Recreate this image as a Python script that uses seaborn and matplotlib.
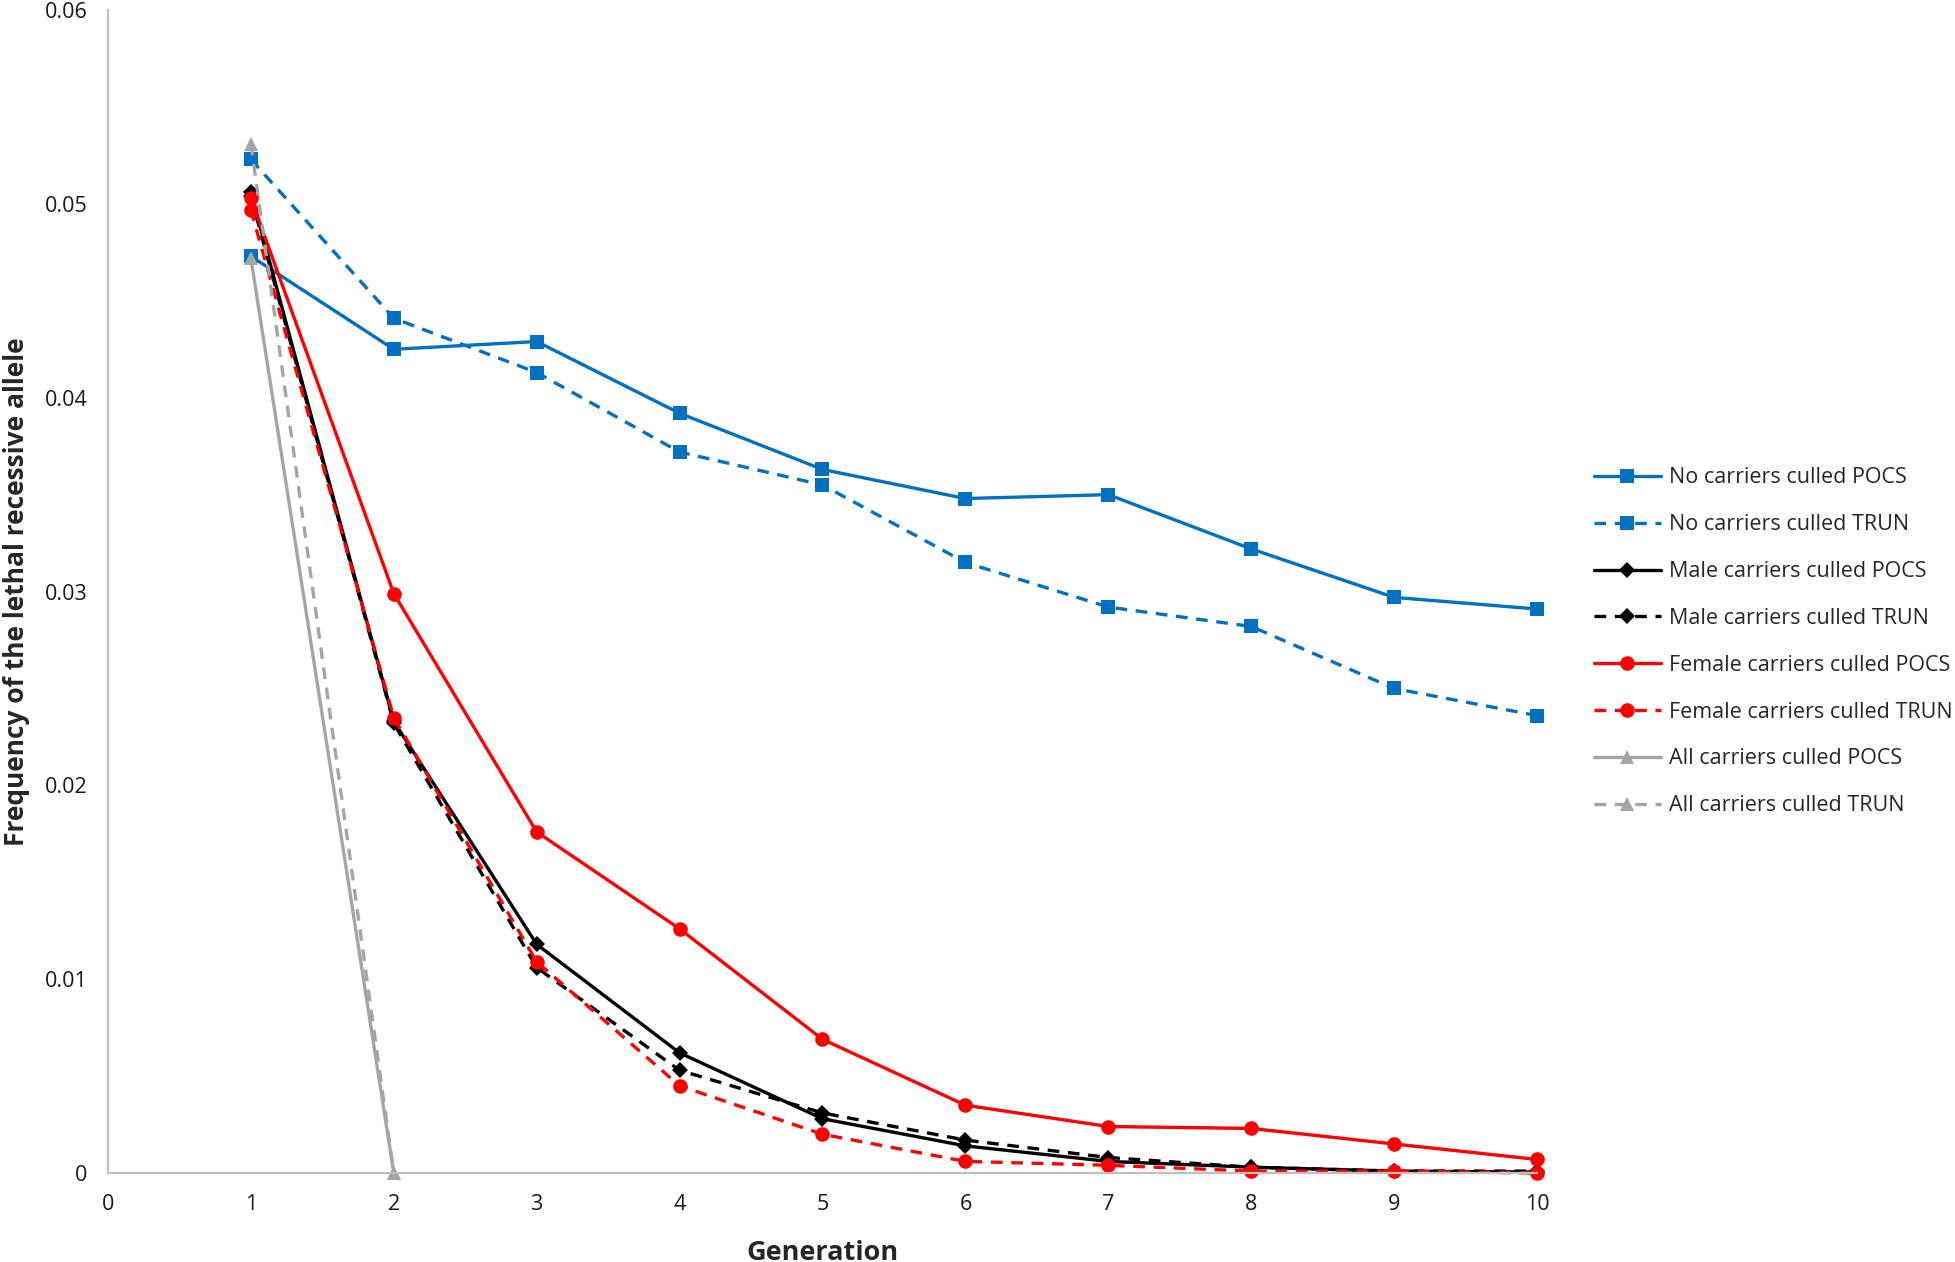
import pandas as pd
import seaborn as sns
import matplotlib
matplotlib.use('Agg')
import matplotlib.pyplot as plt

generations = [1, 2, 3, 4, 5, 6, 7, 8, 9, 10]

no_pocs = [0.0473, 0.0425, 0.0429, 0.0392, 0.0363, 0.0348, 0.0350, 0.0322, 0.0297, 0.0291]
no_trun = [0.0523, 0.0441, 0.0413, 0.0372, 0.0355, 0.0315, 0.0292, 0.0282, 0.0250, 0.0236]
male_pocs = [0.0506, 0.0233, 0.0118, 0.0062, 0.0028, 0.0014, 0.0006, 0.0003, 0.0001, 0.00005]
male_trun = [0.0504, 0.0232, 0.0106, 0.0053, 0.0031, 0.0017, 0.0008, 0.0003, 0.0001, 0.0001]
female_pocs = [0.0503, 0.0299, 0.0176, 0.0126, 0.0069, 0.0035, 0.0024, 0.0023, 0.0015, 0.0007]
female_trun = [0.0497, 0.0235, 0.0109, 0.0045, 0.0020, 0.0006, 0.0004, 0.0001, 0.0001, 0.0000]
all_gens = [1, 2]
all_pocs = [0.0472, 0.0]
all_trun = [0.0531, 0.0]

series_names = ["No carriers culled POCS", "No carriers culled TRUN",
                "Male carriers culled POCS", "Male carriers culled TRUN",
                "Female carriers culled POCS", "Female carriers culled TRUN",
                "All carriers culled POCS", "All carriers culled TRUN"]

yticks = [0, 0.01, 0.02, 0.03, 0.04, 0.05, 0.06]
ytick_labels = ["0", "0.01", "0.02", "0.03", "0.04", "0.05", "0.06"]
xticks = [0, 1, 2, 3, 4, 5, 6, 7, 8, 9, 10]

rows = []
for name, xs, ys in [(series_names[0], generations, no_pocs),
                     (series_names[1], generations, no_trun),
                     (series_names[2], generations, male_pocs),
                     (series_names[3], generations, male_trun),
                     (series_names[4], generations, female_pocs),
                     (series_names[5], generations, female_trun),
                     (series_names[6], all_gens, all_pocs),
                     (series_names[7], all_gens, all_trun)]:
    for x, y in zip(xs, ys):
        rows.append({"Generation": x, "freq": y, "series": name})
df = pd.DataFrame(rows)

colors = ["#0070C0", "#0070C0", "#000000", "#000000", "#FF0000", "#FF0000", "#A5A5A5", "#A5A5A5"]
marks = ["s", "s", "D", "D", "o", "o", "^", "^"]
palette = dict(zip(series_names, colors))
markers = dict(zip(series_names, marks))
dashes = {n: ("" if n.endswith("POCS") else (3.5, 2.6)) for n in series_names}

sns.set_style("white")
plt.rcParams['font.family'] = ['Open Sans', 'DejaVu Sans']

fig = plt.figure(figsize=(19.56, 12.62), dpi=100)
ax = fig.add_axes([0.0552, 0.0705, 0.7306, 0.9215])

sns.lineplot(data=df, x="Generation", y="freq", hue="series", style="series",
             hue_order=series_names, style_order=series_names,
             palette=palette, markers=markers, dashes=dashes,
             linewidth=2.4, markersize=10.5, markeredgewidth=0, ax=ax, clip_on=False)

for line in ax.lines:
    if line.get_marker() == "D":
        line.set_markersize(8.5)

ax.set_xlim(0, 10)
ax.set_ylim(0, 0.06)
ax.set_xticks(xticks)
ax.set_yticks(yticks)
ax.set_yticklabels(ytick_labels)
ax.tick_params(length=0, pad=15, labelsize=15.5, labelcolor="#1a1a1a")
for s in ["top", "right"]:
    ax.spines[s].set_visible(False)
for s in ["left", "bottom"]:
    ax.spines[s].set_color("#BFBFBF")
    ax.spines[s].set_linewidth(1.6)

ax.set_xlabel("Generation", fontsize=19.5, fontweight="bold", labelpad=18)
ax.set_ylabel("Frequency of the lethal recessive allele", fontsize=19, fontweight="bold", labelpad=10)

handles, labels = ax.get_legend_handles_labels()
ax.legend_.remove()
fig.legend(handles, labels, loc="upper left", bbox_to_anchor=(0.805, 0.645),
           frameon=False, fontsize=15.5, handlelength=3.1, handletextpad=0.4,
           labelspacing=1.2)

fig.savefig("out.png", dpi=100)
